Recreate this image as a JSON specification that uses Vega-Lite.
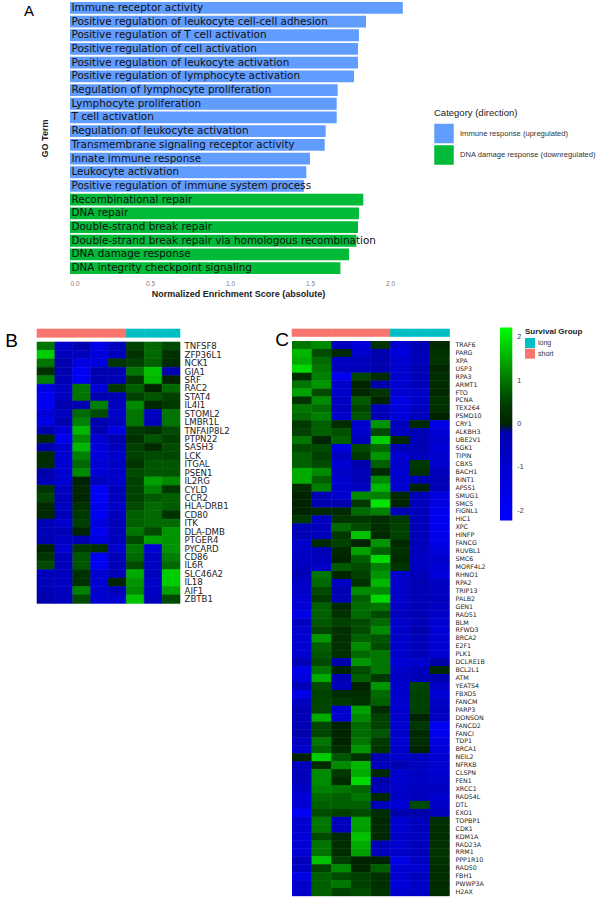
{
  "$schema": "https://vega.github.io/schema/vega-lite/v6.json",
  "padding": {"left": 5, "top": 1, "right": 5, "bottom": 2},
  "config": {"view": {"stroke": null}, "font": "Liberation Sans", "axis": {"grid": false}},
  "datasets": {
    "go": [
      {"term": "Immune receptor activity", "nes": 2.08, "cat": "Immune response (upregulated)"},
      {"term": "Positive regulation of leukocyte cell-cell adhesion", "nes": 1.85, "cat": "Immune response (upregulated)"},
      {"term": "Positive regulation of T cell activation", "nes": 1.806, "cat": "Immune response (upregulated)"},
      {"term": "Positive regulation of cell activation", "nes": 1.80, "cat": "Immune response (upregulated)"},
      {"term": "Positive regulation of leukocyte activation", "nes": 1.80, "cat": "Immune response (upregulated)"},
      {"term": "Positive regulation of lymphocyte activation", "nes": 1.775, "cat": "Immune response (upregulated)"},
      {"term": "Regulation of lymphocyte proliferation", "nes": 1.673, "cat": "Immune response (upregulated)"},
      {"term": "Lymphocyte proliferation", "nes": 1.667, "cat": "Immune response (upregulated)"},
      {"term": "T cell activation", "nes": 1.667, "cat": "Immune response (upregulated)"},
      {"term": "Regulation of leukocyte activation", "nes": 1.598, "cat": "Immune response (upregulated)"},
      {"term": "Transmembrane signaling receptor activity", "nes": 1.592, "cat": "Immune response (upregulated)"},
      {"term": "Innate immune response", "nes": 1.50, "cat": "Immune response (upregulated)"},
      {"term": "Leukocyte activation", "nes": 1.477, "cat": "Immune response (upregulated)"},
      {"term": "Positive regulation of immune system process", "nes": 1.462, "cat": "Immune response (upregulated)"},
      {"term": "Recombinational repair", "nes": 1.833, "cat": "DNA damage response (downregulated)"},
      {"term": "DNA repair", "nes": 1.806, "cat": "DNA damage response (downregulated)"},
      {"term": "Double-strand break repair", "nes": 1.80, "cat": "DNA damage response (downregulated)"},
      {"term": "Double-strand break repair via homologous recombination", "nes": 1.79, "cat": "DNA damage response (downregulated)"},
      {"term": "DNA damage response", "nes": 1.744, "cat": "DNA damage response (downregulated)"},
      {"term": "DNA integrity checkpoint signaling", "nes": 1.69, "cat": "DNA damage response (downregulated)"}
    ],
    "ann": [
      {"c": 1, "grp": "short"}, {"c": 2, "grp": "short"}, {"c": 3, "grp": "short"}, {"c": 4, "grp": "short"},
      {"c": 5, "grp": "short"}, {"c": 6, "grp": "long"}, {"c": 7, "grp": "long"}, {"c": 8, "grp": "long"}
    ],
    "hb": [
      {"g":"TNFSF8","c":1,"v":1.0},{"g":"TNFSF8","c":2,"v":-0.8},{"g":"TNFSF8","c":3,"v":-0.2},{"g":"TNFSF8","c":4,"v":-1.6},{"g":"TNFSF8","c":5,"v":-0.6},{"g":"TNFSF8","c":6,"v":0.5},{"g":"TNFSF8","c":7,"v":0.9},{"g":"TNFSF8","c":8,"v":0.6},
      {"g":"ZFP36L1","c":1,"v":1.8},{"g":"ZFP36L1","c":2,"v":-0.5},{"g":"ZFP36L1","c":3,"v":-0.6},{"g":"ZFP36L1","c":4,"v":-1.3},{"g":"ZFP36L1","c":5,"v":-0.5},{"g":"ZFP36L1","c":6,"v":0.3},{"g":"ZFP36L1","c":7,"v":0.9},{"g":"ZFP36L1","c":8,"v":0.25},
      {"g":"NCK1","c":1,"v":1.0},{"g":"NCK1","c":2,"v":-0.2},{"g":"NCK1","c":3,"v":-1.5},{"g":"NCK1","c":4,"v":-1.4},{"g":"NCK1","c":5,"v":0.35},{"g":"NCK1","c":6,"v":0.5},{"g":"NCK1","c":7,"v":0.8},{"g":"NCK1","c":8,"v":0.2},
      {"g":"GJA1","c":1,"v":0.3},{"g":"GJA1","c":2,"v":-0.2},{"g":"GJA1","c":3,"v":-2.0},{"g":"GJA1","c":4,"v":-0.1},{"g":"GJA1","c":5,"v":-0.25},{"g":"GJA1","c":6,"v":1.0},{"g":"GJA1","c":7,"v":1.7},{"g":"GJA1","c":8,"v":-0.15},
      {"g":"SRF","c":1,"v":1.1},{"g":"SRF","c":2,"v":-0.4},{"g":"SRF","c":3,"v":-1.9},{"g":"SRF","c":4,"v":-0.3},{"g":"SRF","c":5,"v":-0.4},{"g":"SRF","c":6,"v":0.4},{"g":"SRF","c":7,"v":1.6},{"g":"SRF","c":8,"v":0.0},
      {"g":"RAC2","c":1,"v":-1.5},{"g":"RAC2","c":2,"v":-0.6},{"g":"RAC2","c":3,"v":1.0},{"g":"RAC2","c":4,"v":-1.2},{"g":"RAC2","c":5,"v":0.4},{"g":"RAC2","c":6,"v":0.8},{"g":"RAC2","c":7,"v":0.0},{"g":"RAC2","c":8,"v":0.9},
      {"g":"STAT4","c":1,"v":-1.9},{"g":"STAT4","c":2,"v":-0.6},{"g":"STAT4","c":3,"v":1.0},{"g":"STAT4","c":4,"v":-0.25},{"g":"STAT4","c":5,"v":-0.35},{"g":"STAT4","c":6,"v":0.5},{"g":"STAT4","c":7,"v":0.7},{"g":"STAT4","c":8,"v":0.5},
      {"g":"IL4I1","c":1,"v":-1.9},{"g":"IL4I1","c":2,"v":-0.15},{"g":"IL4I1","c":3,"v":-0.2},{"g":"IL4I1","c":4,"v":1.1},{"g":"IL4I1","c":5,"v":-0.6},{"g":"IL4I1","c":6,"v":1.2},{"g":"IL4I1","c":7,"v":0.05},{"g":"IL4I1","c":8,"v":0.4},
      {"g":"STOML2","c":1,"v":-1.2},{"g":"STOML2","c":2,"v":-0.6},{"g":"STOML2","c":3,"v":0.9},{"g":"STOML2","c":4,"v":0.6},{"g":"STOML2","c":5,"v":-0.9},{"g":"STOML2","c":6,"v":1.0},{"g":"STOML2","c":7,"v":-0.7},{"g":"STOML2","c":8,"v":1.0},
      {"g":"LMBR1L","c":1,"v":-1.6},{"g":"LMBR1L","c":2,"v":-0.2},{"g":"LMBR1L","c":3,"v":1.1},{"g":"LMBR1L","c":4,"v":-0.15},{"g":"LMBR1L","c":5,"v":-0.6},{"g":"LMBR1L","c":6,"v":1.0},{"g":"LMBR1L","c":7,"v":-0.4},{"g":"LMBR1L","c":8,"v":1.0},
      {"g":"TNFAIP8L2","c":1,"v":-0.15},{"g":"TNFAIP8L2","c":2,"v":-1.2},{"g":"TNFAIP8L2","c":3,"v":1.6},{"g":"TNFAIP8L2","c":4,"v":-0.2},{"g":"TNFAIP8L2","c":5,"v":-1.5},{"g":"TNFAIP8L2","c":6,"v":0.4},{"g":"TNFAIP8L2","c":7,"v":0.25},{"g":"TNFAIP8L2","c":8,"v":0.6},
      {"g":"PTPN22","c":1,"v":0.15},{"g":"PTPN22","c":2,"v":-1.9},{"g":"PTPN22","c":3,"v":1.2},{"g":"PTPN22","c":4,"v":-1.0},{"g":"PTPN22","c":5,"v":-0.25},{"g":"PTPN22","c":6,"v":0.25},{"g":"PTPN22","c":7,"v":0.7},{"g":"PTPN22","c":8,"v":0.45},
      {"g":"SASH3","c":1,"v":-0.05},{"g":"SASH3","c":2,"v":-1.0},{"g":"SASH3","c":3,"v":1.6},{"g":"SASH3","c":4,"v":-1.3},{"g":"SASH3","c":5,"v":-0.5},{"g":"SASH3","c":6,"v":0.5},{"g":"SASH3","c":7,"v":0.1},{"g":"SASH3","c":8,"v":0.6},
      {"g":"LCK","c":1,"v":0.2},{"g":"LCK","c":2,"v":-1.0},{"g":"LCK","c":3,"v":1.1},{"g":"LCK","c":4,"v":-1.3},{"g":"LCK","c":5,"v":-0.9},{"g":"LCK","c":6,"v":0.5},{"g":"LCK","c":7,"v":0.6},{"g":"LCK","c":8,"v":0.55},
      {"g":"ITGAL","c":1,"v":0.2},{"g":"ITGAL","c":2,"v":-1.1},{"g":"ITGAL","c":3,"v":0.9},{"g":"ITGAL","c":4,"v":-1.2},{"g":"ITGAL","c":5,"v":-0.7},{"g":"ITGAL","c":6,"v":0.35},{"g":"ITGAL","c":7,"v":0.7},{"g":"ITGAL","c":8,"v":0.7},
      {"g":"PSEN1","c":1,"v":-0.05},{"g":"PSEN1","c":2,"v":-1.1},{"g":"PSEN1","c":3,"v":1.2},{"g":"PSEN1","c":4,"v":-1.2},{"g":"PSEN1","c":5,"v":-0.8},{"g":"PSEN1","c":6,"v":0.6},{"g":"PSEN1","c":7,"v":0.7},{"g":"PSEN1","c":8,"v":0.7},
      {"g":"IL2RG","c":1,"v":-0.35},{"g":"IL2RG","c":2,"v":-1.1},{"g":"IL2RG","c":3,"v":0.0},{"g":"IL2RG","c":4,"v":-0.6},{"g":"IL2RG","c":5,"v":-0.9},{"g":"IL2RG","c":6,"v":0.5},{"g":"IL2RG","c":7,"v":1.4},{"g":"IL2RG","c":8,"v":1.2},
      {"g":"CYLD","c":1,"v":0.35},{"g":"CYLD","c":2,"v":-0.6},{"g":"CYLD","c":3,"v":0.1},{"g":"CYLD","c":4,"v":-2.0},{"g":"CYLD","c":5,"v":-0.5},{"g":"CYLD","c":6,"v":0.5},{"g":"CYLD","c":7,"v":1.1},{"g":"CYLD","c":8,"v":0.4},
      {"g":"CCR2","c":1,"v":0.55},{"g":"CCR2","c":2,"v":-0.5},{"g":"CCR2","c":3,"v":0.05},{"g":"CCR2","c":4,"v":-2.0},{"g":"CCR2","c":5,"v":-0.5},{"g":"CCR2","c":6,"v":0.5},{"g":"CCR2","c":7,"v":0.75},{"g":"CCR2","c":8,"v":0.8},
      {"g":"HLA-DRB1","c":1,"v":0.15},{"g":"HLA-DRB1","c":2,"v":-0.6},{"g":"HLA-DRB1","c":3,"v":0.3},{"g":"HLA-DRB1","c":4,"v":-1.8},{"g":"HLA-DRB1","c":5,"v":-0.8},{"g":"HLA-DRB1","c":6,"v":0.6},{"g":"HLA-DRB1","c":7,"v":0.9},{"g":"HLA-DRB1","c":8,"v":0.75},
      {"g":"CD80","c":1,"v":0.1},{"g":"CD80","c":2,"v":-0.3},{"g":"CD80","c":3,"v":0.4},{"g":"CD80","c":4,"v":-1.9},{"g":"CD80","c":5,"v":-0.5},{"g":"CD80","c":6,"v":0.8},{"g":"CD80","c":7,"v":0.9},{"g":"CD80","c":8,"v":0.3},
      {"g":"ITK","c":1,"v":-0.3},{"g":"ITK","c":2,"v":-1.0},{"g":"ITK","c":3,"v":0.45},{"g":"ITK","c":4,"v":-1.4},{"g":"ITK","c":5,"v":-0.4},{"g":"ITK","c":6,"v":0.8},{"g":"ITK","c":7,"v":0.9},{"g":"ITK","c":8,"v":0.9},
      {"g":"DLA-DMB","c":1,"v":-0.4},{"g":"DLA-DMB","c":2,"v":-0.4},{"g":"DLA-DMB","c":3,"v":0.0},{"g":"DLA-DMB","c":4,"v":-1.8},{"g":"DLA-DMB","c":5,"v":-0.5},{"g":"DLA-DMB","c":6,"v":1.0},{"g":"DLA-DMB","c":7,"v":0.6},{"g":"DLA-DMB","c":8,"v":1.3},
      {"g":"PTGER4","c":1,"v":-0.3},{"g":"PTGER4","c":2,"v":-0.7},{"g":"PTGER4","c":3,"v":-0.1},{"g":"PTGER4","c":4,"v":-1.4},{"g":"PTGER4","c":5,"v":-0.5},{"g":"PTGER4","c":6,"v":0.6},{"g":"PTGER4","c":7,"v":1.4},{"g":"PTGER4","c":8,"v":1.3},
      {"g":"PYCARD","c":1,"v":0.0},{"g":"PYCARD","c":2,"v":-1.0},{"g":"PYCARD","c":3,"v":0.4},{"g":"PYCARD","c":4,"v":0.3},{"g":"PYCARD","c":5,"v":-1.0},{"g":"PYCARD","c":6,"v":1.0},{"g":"PYCARD","c":7,"v":-1.2},{"g":"PYCARD","c":8,"v":1.3},
      {"g":"CD86","c":1,"v":0.35},{"g":"CD86","c":2,"v":-0.5},{"g":"CD86","c":3,"v":0.7},{"g":"CD86","c":4,"v":-1.9},{"g":"CD86","c":5,"v":-0.4},{"g":"CD86","c":6,"v":0.9},{"g":"CD86","c":7,"v":-0.6},{"g":"CD86","c":8,"v":1.1},
      {"g":"IL6R","c":1,"v":0.6},{"g":"IL6R","c":2,"v":-0.5},{"g":"IL6R","c":3,"v":0.7},{"g":"IL6R","c":4,"v":-1.9},{"g":"IL6R","c":5,"v":-0.4},{"g":"IL6R","c":6,"v":0.6},{"g":"IL6R","c":7,"v":-0.6},{"g":"IL6R","c":8,"v":0.9},
      {"g":"SLC46A2","c":1,"v":-0.5},{"g":"SLC46A2","c":2,"v":-0.5},{"g":"SLC46A2","c":3,"v":0.3},{"g":"SLC46A2","c":4,"v":-1.0},{"g":"SLC46A2","c":5,"v":-0.4},{"g":"SLC46A2","c":6,"v":1.5},{"g":"SLC46A2","c":7,"v":-0.6},{"g":"SLC46A2","c":8,"v":1.8},
      {"g":"IL18","c":1,"v":-0.5},{"g":"IL18","c":2,"v":-0.7},{"g":"IL18","c":3,"v":0.3},{"g":"IL18","c":4,"v":-1.1},{"g":"IL18","c":5,"v":0.0},{"g":"IL18","c":6,"v":1.3},{"g":"IL18","c":7,"v":-0.8},{"g":"IL18","c":8,"v":1.8},
      {"g":"AIF1","c":1,"v":-0.3},{"g":"AIF1","c":2,"v":-0.6},{"g":"AIF1","c":3,"v":1.1},{"g":"AIF1","c":4,"v":-1.0},{"g":"AIF1","c":5,"v":-0.4},{"g":"AIF1","c":6,"v":1.2},{"g":"AIF1","c":7,"v":-0.8},{"g":"AIF1","c":8,"v":1.4},
      {"g":"ZBTB1","c":1,"v":-0.1},{"g":"ZBTB1","c":2,"v":-0.5},{"g":"ZBTB1","c":3,"v":0.6},{"g":"ZBTB1","c":4,"v":-1.0},{"g":"ZBTB1","c":5,"v":-1.0},{"g":"ZBTB1","c":6,"v":1.7},{"g":"ZBTB1","c":7,"v":-0.6},{"g":"ZBTB1","c":8,"v":0.6}
    ],
    "hc": [
      {"g":"TRAF6","c":1,"v":1.0},{"g":"TRAF6","c":2,"v":1.2},{"g":"TRAF6","c":3,"v":-0.5},{"g":"TRAF6","c":4,"v":-1.2},{"g":"TRAF6","c":5,"v":0.35},{"g":"TRAF6","c":6,"v":-1.1},{"g":"TRAF6","c":7,"v":-0.3},{"g":"TRAF6","c":8,"v":0.15},
      {"g":"PARG","c":1,"v":1.6},{"g":"PARG","c":2,"v":0.6},{"g":"PARG","c":3,"v":0.1},{"g":"PARG","c":4,"v":-1.0},{"g":"PARG","c":5,"v":-0.1},{"g":"PARG","c":6,"v":-1.4},{"g":"PARG","c":7,"v":-0.4},{"g":"PARG","c":8,"v":0.3},
      {"g":"XPA","c":1,"v":1.5},{"g":"XPA","c":2,"v":0.9},{"g":"XPA","c":3,"v":-0.6},{"g":"XPA","c":4,"v":-0.4},{"g":"XPA","c":5,"v":-0.1},{"g":"XPA","c":6,"v":-1.1},{"g":"XPA","c":7,"v":-0.5},{"g":"XPA","c":8,"v":0.35},
      {"g":"USP3","c":1,"v":1.9},{"g":"USP3","c":2,"v":1.0},{"g":"USP3","c":3,"v":-0.6},{"g":"USP3","c":4,"v":-0.5},{"g":"USP3","c":5,"v":-0.15},{"g":"USP3","c":6,"v":-1.0},{"g":"USP3","c":7,"v":-0.3},{"g":"USP3","c":8,"v":0.05},
      {"g":"RPA3","c":1,"v":0.2},{"g":"RPA3","c":2,"v":1.1},{"g":"RPA3","c":3,"v":-1.8},{"g":"RPA3","c":4,"v":0.55},{"g":"RPA3","c":5,"v":0.2},{"g":"RPA3","c":6,"v":-1.1},{"g":"RPA3","c":7,"v":-0.4},{"g":"RPA3","c":8,"v":0.2},
      {"g":"ARMT1","c":1,"v":1.0},{"g":"ARMT1","c":2,"v":1.3},{"g":"ARMT1","c":3,"v":-0.9},{"g":"ARMT1","c":4,"v":0.0},{"g":"ARMT1","c":5,"v":-0.05},{"g":"ARMT1","c":6,"v":-1.0},{"g":"ARMT1","c":7,"v":-0.5},{"g":"ARMT1","c":8,"v":0.2},
      {"g":"FTO","c":1,"v":1.4},{"g":"FTO","c":2,"v":0.6},{"g":"FTO","c":3,"v":-0.9},{"g":"FTO","c":4,"v":0.05},{"g":"FTO","c":5,"v":0.35},{"g":"FTO","c":6,"v":-1.1},{"g":"FTO","c":7,"v":-0.8},{"g":"FTO","c":8,"v":0.1},
      {"g":"PCNA","c":1,"v":0.3},{"g":"PCNA","c":2,"v":1.2},{"g":"PCNA","c":3,"v":-0.7},{"g":"PCNA","c":4,"v":0.75},{"g":"PCNA","c":5,"v":0.0},{"g":"PCNA","c":6,"v":-1.5},{"g":"PCNA","c":7,"v":-0.8},{"g":"PCNA","c":8,"v":0.3},
      {"g":"TEX264","c":1,"v":1.0},{"g":"TEX264","c":2,"v":0.9},{"g":"TEX264","c":3,"v":-0.5},{"g":"TEX264","c":4,"v":0.55},{"g":"TEX264","c":5,"v":-0.5},{"g":"TEX264","c":6,"v":-1.3},{"g":"TEX264","c":7,"v":-0.7},{"g":"TEX264","c":8,"v":0.3},
      {"g":"PSMD10","c":1,"v":0.9},{"g":"PSMD10","c":2,"v":1.1},{"g":"PSMD10","c":3,"v":-0.9},{"g":"PSMD10","c":4,"v":0.7},{"g":"PSMD10","c":5,"v":-0.3},{"g":"PSMD10","c":6,"v":-1.3},{"g":"PSMD10","c":7,"v":-0.5},{"g":"PSMD10","c":8,"v":0.0},
      {"g":"CRY1","c":1,"v":0.4},{"g":"CRY1","c":2,"v":0.8},{"g":"CRY1","c":3,"v":0.2},{"g":"CRY1","c":4,"v":-1.0},{"g":"CRY1","c":5,"v":1.3},{"g":"CRY1","c":6,"v":-0.5},{"g":"CRY1","c":7,"v":0.1},{"g":"CRY1","c":8,"v":-1.6},
      {"g":"ALKBH3","c":1,"v":0.5},{"g":"ALKBH3","c":2,"v":0.8},{"g":"ALKBH3","c":3,"v":0.65},{"g":"ALKBH3","c":4,"v":-0.9},{"g":"ALKBH3","c":5,"v":0.6},{"g":"ALKBH3","c":6,"v":-0.5},{"g":"ALKBH3","c":7,"v":-0.3},{"g":"ALKBH3","c":8,"v":-1.2},
      {"g":"UBE2V1","c":1,"v":1.0},{"g":"UBE2V1","c":2,"v":0.0},{"g":"UBE2V1","c":3,"v":0.8},{"g":"UBE2V1","c":4,"v":-0.5},{"g":"UBE2V1","c":5,"v":1.8},{"g":"UBE2V1","c":6,"v":0.15},{"g":"UBE2V1","c":7,"v":-0.3},{"g":"UBE2V1","c":8,"v":-0.9},
      {"g":"SGK1","c":1,"v":0.6},{"g":"SGK1","c":2,"v":0.6},{"g":"SGK1","c":3,"v":-1.4},{"g":"SGK1","c":4,"v":0.6},{"g":"SGK1","c":5,"v":0.9},{"g":"SGK1","c":6,"v":-0.35},{"g":"SGK1","c":7,"v":-0.3},{"g":"SGK1","c":8,"v":-1.2},
      {"g":"TIPIN","c":1,"v":0.8},{"g":"TIPIN","c":2,"v":0.5},{"g":"TIPIN","c":3,"v":-0.6},{"g":"TIPIN","c":4,"v":0.4},{"g":"TIPIN","c":5,"v":1.3},{"g":"TIPIN","c":6,"v":-1.0},{"g":"TIPIN","c":7,"v":-0.6},{"g":"TIPIN","c":8,"v":-1.0},
      {"g":"CBX5","c":1,"v":0.8},{"g":"CBX5","c":2,"v":0.6},{"g":"CBX5","c":3,"v":-1.1},{"g":"CBX5","c":4,"v":-0.05},{"g":"CBX5","c":5,"v":0.8},{"g":"CBX5","c":6,"v":-0.9},{"g":"CBX5","c":7,"v":0.4},{"g":"CBX5","c":8,"v":-1.0},
      {"g":"BACH1","c":1,"v":1.5},{"g":"BACH1","c":2,"v":1.2},{"g":"BACH1","c":3,"v":-0.8},{"g":"BACH1","c":4,"v":-0.4},{"g":"BACH1","c":5,"v":0.1},{"g":"BACH1","c":6,"v":-1.0},{"g":"BACH1","c":7,"v":0.3},{"g":"BACH1","c":8,"v":-0.5},
      {"g":"RINT1","c":1,"v":1.5},{"g":"RINT1","c":2,"v":0.8},{"g":"RINT1","c":3,"v":-1.0},{"g":"RINT1","c":4,"v":-0.3},{"g":"RINT1","c":5,"v":1.2},{"g":"RINT1","c":6,"v":-1.0},{"g":"RINT1","c":7,"v":-0.3},{"g":"RINT1","c":8,"v":-0.3},
      {"g":"AP5S1","c":1,"v":0.2},{"g":"AP5S1","c":2,"v":1.1},{"g":"AP5S1","c":3,"v":-0.9},{"g":"AP5S1","c":4,"v":-0.7},{"g":"AP5S1","c":5,"v":1.6},{"g":"AP5S1","c":6,"v":-1.0},{"g":"AP5S1","c":7,"v":0.0},{"g":"AP5S1","c":8,"v":-0.4},
      {"g":"SMUG1","c":1,"v":0.0},{"g":"SMUG1","c":2,"v":-0.3},{"g":"SMUG1","c":3,"v":-1.0},{"g":"SMUG1","c":4,"v":1.2},{"g":"SMUG1","c":5,"v":1.1},{"g":"SMUG1","c":6,"v":0.15},{"g":"SMUG1","c":7,"v":-0.4},{"g":"SMUG1","c":8,"v":-1.4},
      {"g":"SMC5","c":1,"v":0.0},{"g":"SMC5","c":2,"v":-0.25},{"g":"SMC5","c":3,"v":-0.1},{"g":"SMC5","c":4,"v":0.4},{"g":"SMC5","c":5,"v":2.0},{"g":"SMC5","c":6,"v":0.0},{"g":"SMC5","c":7,"v":-0.5},{"g":"SMC5","c":8,"v":-1.5},
      {"g":"FIGNL1","c":1,"v":0.0},{"g":"FIGNL1","c":2,"v":0.1},{"g":"FIGNL1","c":3,"v":0.15},{"g":"FIGNL1","c":4,"v":0.9},{"g":"FIGNL1","c":5,"v":1.1},{"g":"FIGNL1","c":6,"v":-0.3},{"g":"FIGNL1","c":7,"v":-0.5},{"g":"FIGNL1","c":8,"v":-1.8},
      {"g":"HIC1","c":1,"v":0.4},{"g":"HIC1","c":2,"v":-0.6},{"g":"HIC1","c":3,"v":0.35},{"g":"HIC1","c":4,"v":0.4},{"g":"HIC1","c":5,"v":0.2},{"g":"HIC1","c":6,"v":0.4},{"g":"HIC1","c":7,"v":-0.5},{"g":"HIC1","c":8,"v":-1.8},
      {"g":"XPC","c":1,"v":-0.3},{"g":"XPC","c":2,"v":-0.5},{"g":"XPC","c":3,"v":0.9},{"g":"XPC","c":4,"v":0.6},{"g":"XPC","c":5,"v":0.2},{"g":"XPC","c":6,"v":0.5},{"g":"XPC","c":7,"v":-0.5},{"g":"XPC","c":8,"v":-1.8},
      {"g":"HINFP","c":1,"v":-0.3},{"g":"HINFP","c":2,"v":-0.4},{"g":"HINFP","c":3,"v":0.4},{"g":"HINFP","c":4,"v":1.7},{"g":"HINFP","c":5,"v":0.1},{"g":"HINFP","c":6,"v":0.5},{"g":"HINFP","c":7,"v":-0.5},{"g":"HINFP","c":8,"v":-1.7},
      {"g":"FANCG","c":1,"v":-0.9},{"g":"FANCG","c":2,"v":0.1},{"g":"FANCG","c":3,"v":0.5},{"g":"FANCG","c":4,"v":0.05},{"g":"FANCG","c":5,"v":1.3},{"g":"FANCG","c":6,"v":0.15},{"g":"FANCG","c":7,"v":-0.4},{"g":"FANCG","c":8,"v":-1.6},
      {"g":"RUVBL1","c":1,"v":-0.8},{"g":"RUVBL1","c":2,"v":-0.3},{"g":"RUVBL1","c":3,"v":0.1},{"g":"RUVBL1","c":4,"v":1.4},{"g":"RUVBL1","c":5,"v":0.8},{"g":"RUVBL1","c":6,"v":0.3},{"g":"RUVBL1","c":7,"v":-0.5},{"g":"RUVBL1","c":8,"v":-1.3},
      {"g":"SMC6","c":1,"v":-0.7},{"g":"SMC6","c":2,"v":-0.5},{"g":"SMC6","c":3,"v":0.0},{"g":"SMC6","c":4,"v":0.8},{"g":"SMC6","c":5,"v":1.9},{"g":"SMC6","c":6,"v":0.15},{"g":"SMC6","c":7,"v":-0.7},{"g":"SMC6","c":8,"v":-0.9},
      {"g":"MORF4L2","c":1,"v":-0.5},{"g":"MORF4L2","c":2,"v":-0.8},{"g":"MORF4L2","c":3,"v":0.75},{"g":"MORF4L2","c":4,"v":0.6},{"g":"MORF4L2","c":5,"v":1.1},{"g":"MORF4L2","c":6,"v":0.35},{"g":"MORF4L2","c":7,"v":-0.7},{"g":"MORF4L2","c":8,"v":-1.1},
      {"g":"RHNO1","c":1,"v":-0.3},{"g":"RHNO1","c":2,"v":1.0},{"g":"RHNO1","c":3,"v":0.0},{"g":"RHNO1","c":4,"v":0.5},{"g":"RHNO1","c":5,"v":1.3},{"g":"RHNO1","c":6,"v":-0.9},{"g":"RHNO1","c":7,"v":-0.4},{"g":"RHNO1","c":8,"v":-1.3},
      {"g":"RPA2","c":1,"v":-0.8},{"g":"RPA2","c":2,"v":0.9},{"g":"RPA2","c":3,"v":-0.7},{"g":"RPA2","c":4,"v":0.3},{"g":"RPA2","c":5,"v":1.6},{"g":"RPA2","c":6,"v":-0.8},{"g":"RPA2","c":7,"v":-0.3},{"g":"RPA2","c":8,"v":-0.6},
      {"g":"TRIP13","c":1,"v":-0.9},{"g":"TRIP13","c":2,"v":0.6},{"g":"TRIP13","c":3,"v":-0.25},{"g":"TRIP13","c":4,"v":1.2},{"g":"TRIP13","c":5,"v":1.2},{"g":"TRIP13","c":6,"v":-0.8},{"g":"TRIP13","c":7,"v":-0.3},{"g":"TRIP13","c":8,"v":-0.7},
      {"g":"PALB2","c":1,"v":-1.1},{"g":"PALB2","c":2,"v":0.4},{"g":"PALB2","c":3,"v":-0.3},{"g":"PALB2","c":4,"v":0.8},{"g":"PALB2","c":5,"v":1.9},{"g":"PALB2","c":6,"v":-0.8},{"g":"PALB2","c":7,"v":-0.35},{"g":"PALB2","c":8,"v":-0.5},
      {"g":"GEN1","c":1,"v":-1.2},{"g":"GEN1","c":2,"v":0.8},{"g":"GEN1","c":3,"v":0.1},{"g":"GEN1","c":4,"v":0.9},{"g":"GEN1","c":5,"v":1.0},{"g":"GEN1","c":6,"v":-0.8},{"g":"GEN1","c":7,"v":-0.35},{"g":"GEN1","c":8,"v":-0.7},
      {"g":"RAD51","c":1,"v":-1.5},{"g":"RAD51","c":2,"v":0.8},{"g":"RAD51","c":3,"v":0.3},{"g":"RAD51","c":4,"v":0.9},{"g":"RAD51","c":5,"v":0.6},{"g":"RAD51","c":6,"v":-0.45},{"g":"RAD51","c":7,"v":-0.3},{"g":"RAD51","c":8,"v":-0.8},
      {"g":"BLM","c":1,"v":-0.7},{"g":"BLM","c":2,"v":0.7},{"g":"BLM","c":3,"v":0.5},{"g":"BLM","c":4,"v":0.6},{"g":"BLM","c":5,"v":0.9},{"g":"BLM","c":6,"v":-0.9},{"g":"BLM","c":7,"v":-0.4},{"g":"BLM","c":8,"v":-1.1},
      {"g":"RFWD3","c":1,"v":-1.0},{"g":"RFWD3","c":2,"v":0.55},{"g":"RFWD3","c":3,"v":0.25},{"g":"RFWD3","c":4,"v":0.6},{"g":"RFWD3","c":5,"v":1.2},{"g":"RFWD3","c":6,"v":-0.9},{"g":"RFWD3","c":7,"v":-0.1},{"g":"RFWD3","c":8,"v":-1.2},
      {"g":"BRCA2","c":1,"v":-1.0},{"g":"BRCA2","c":2,"v":1.3},{"g":"BRCA2","c":3,"v":0.25},{"g":"BRCA2","c":4,"v":0.8},{"g":"BRCA2","c":5,"v":0.7},{"g":"BRCA2","c":6,"v":-0.9},{"g":"BRCA2","c":7,"v":-0.4},{"g":"BRCA2","c":8,"v":-1.1},
      {"g":"E2F1","c":1,"v":-1.0},{"g":"E2F1","c":2,"v":0.8},{"g":"E2F1","c":3,"v":0.25},{"g":"E2F1","c":4,"v":1.2},{"g":"E2F1","c":5,"v":0.6},{"g":"E2F1","c":6,"v":-0.9},{"g":"E2F1","c":7,"v":-0.4},{"g":"E2F1","c":8,"v":-1.1},
      {"g":"PLK1","c":1,"v":-1.0},{"g":"PLK1","c":2,"v":0.7},{"g":"PLK1","c":3,"v":0.25},{"g":"PLK1","c":4,"v":0.9},{"g":"PLK1","c":5,"v":1.0},{"g":"PLK1","c":6,"v":-0.9},{"g":"PLK1","c":7,"v":-0.4},{"g":"PLK1","c":8,"v":-1.1},
      {"g":"DCLRE1B","c":1,"v":-0.4},{"g":"DCLRE1B","c":2,"v":0.6},{"g":"DCLRE1B","c":3,"v":-0.05},{"g":"DCLRE1B","c":4,"v":1.3},{"g":"DCLRE1B","c":5,"v":1.0},{"g":"DCLRE1B","c":6,"v":-1.2},{"g":"DCLRE1B","c":7,"v":-1.0},{"g":"DCLRE1B","c":8,"v":-0.05},
      {"g":"BCL2L1","c":1,"v":-1.6},{"g":"BCL2L1","c":2,"v":1.0},{"g":"BCL2L1","c":3,"v":0.0},{"g":"BCL2L1","c":4,"v":0.6},{"g":"BCL2L1","c":5,"v":1.0},{"g":"BCL2L1","c":6,"v":-0.8},{"g":"BCL2L1","c":7,"v":-0.5},{"g":"BCL2L1","c":8,"v":0.1},
      {"g":"ATM","c":1,"v":-1.3},{"g":"ATM","c":2,"v":1.5},{"g":"ATM","c":3,"v":-0.2},{"g":"ATM","c":4,"v":0.8},{"g":"ATM","c":5,"v":0.4},{"g":"ATM","c":6,"v":-0.8},{"g":"ATM","c":7,"v":-0.35},{"g":"ATM","c":8,"v":-0.1},
      {"g":"YEATS4","c":1,"v":-0.4},{"g":"YEATS4","c":2,"v":0.6},{"g":"YEATS4","c":3,"v":-0.5},{"g":"YEATS4","c":4,"v":0.0},{"g":"YEATS4","c":5,"v":1.3},{"g":"YEATS4","c":6,"v":-0.9},{"g":"YEATS4","c":7,"v":0.55},{"g":"YEATS4","c":8,"v":-0.8},
      {"g":"FBXO5","c":1,"v":-1.6},{"g":"FBXO5","c":2,"v":0.5},{"g":"FBXO5","c":3,"v":0.2},{"g":"FBXO5","c":4,"v":0.2},{"g":"FBXO5","c":5,"v":0.9},{"g":"FBXO5","c":6,"v":-0.9},{"g":"FBXO5","c":7,"v":0.5},{"g":"FBXO5","c":8,"v":-1.2},
      {"g":"FANCM","c":1,"v":-0.7},{"g":"FANCM","c":2,"v":0.55},{"g":"FANCM","c":3,"v":0.4},{"g":"FANCM","c":4,"v":0.3},{"g":"FANCM","c":5,"v":0.8},{"g":"FANCM","c":6,"v":-1.0},{"g":"FANCM","c":7,"v":0.5},{"g":"FANCM","c":8,"v":-0.8},
      {"g":"PARP3","c":1,"v":-0.3},{"g":"PARP3","c":2,"v":0.55},{"g":"PARP3","c":3,"v":-1.0},{"g":"PARP3","c":4,"v":1.4},{"g":"PARP3","c":5,"v":0.15},{"g":"PARP3","c":6,"v":-1.1},{"g":"PARP3","c":7,"v":0.5},{"g":"PARP3","c":8,"v":-0.6},
      {"g":"DONSON","c":1,"v":-0.35},{"g":"DONSON","c":2,"v":1.5},{"g":"DONSON","c":3,"v":-1.0},{"g":"DONSON","c":4,"v":1.2},{"g":"DONSON","c":5,"v":0.5},{"g":"DONSON","c":6,"v":-0.9},{"g":"DONSON","c":7,"v":0.0},{"g":"DONSON","c":8,"v":-0.7},
      {"g":"FANCD2","c":1,"v":-0.3},{"g":"FANCD2","c":2,"v":0.55},{"g":"FANCD2","c":3,"v":0.0},{"g":"FANCD2","c":4,"v":0.9},{"g":"FANCD2","c":5,"v":0.5},{"g":"FANCD2","c":6,"v":-1.0},{"g":"FANCD2","c":7,"v":0.4},{"g":"FANCD2","c":8,"v":-1.8},
      {"g":"FANCI","c":1,"v":-0.1},{"g":"FANCI","c":2,"v":0.55},{"g":"FANCI","c":3,"v":0.0},{"g":"FANCI","c":4,"v":0.9},{"g":"FANCI","c":5,"v":0.7},{"g":"FANCI","c":6,"v":-0.9},{"g":"FANCI","c":7,"v":0.1},{"g":"FANCI","c":8,"v":-1.8},
      {"g":"TDP1","c":1,"v":-0.6},{"g":"TDP1","c":2,"v":1.0},{"g":"TDP1","c":3,"v":0.0},{"g":"TDP1","c":4,"v":1.0},{"g":"TDP1","c":5,"v":0.4},{"g":"TDP1","c":6,"v":-1.0},{"g":"TDP1","c":7,"v":0.2},{"g":"TDP1","c":8,"v":-1.4},
      {"g":"BRCA1","c":1,"v":-0.9},{"g":"BRCA1","c":2,"v":0.8},{"g":"BRCA1","c":3,"v":0.2},{"g":"BRCA1","c":4,"v":1.3},{"g":"BRCA1","c":5,"v":0.35},{"g":"BRCA1","c":6,"v":-0.9},{"g":"BRCA1","c":7,"v":0.0},{"g":"BRCA1","c":8,"v":-1.3},
      {"g":"NEIL2","c":1,"v":0.0},{"g":"NEIL2","c":2,"v":1.8},{"g":"NEIL2","c":3,"v":0.7},{"g":"NEIL2","c":4,"v":0.3},{"g":"NEIL2","c":5,"v":-0.3},{"g":"NEIL2","c":6,"v":-0.9},{"g":"NEIL2","c":7,"v":-0.6},{"g":"NEIL2","c":8,"v":-1.0},
      {"g":"NFRKB","c":1,"v":-0.5},{"g":"NFRKB","c":2,"v":0.2},{"g":"NFRKB","c":3,"v":1.2},{"g":"NFRKB","c":4,"v":1.6},{"g":"NFRKB","c":5,"v":-0.5},{"g":"NFRKB","c":6,"v":-0.2},{"g":"NFRKB","c":7,"v":-0.6},{"g":"NFRKB","c":8,"v":-1.0},
      {"g":"CLSPN","c":1,"v":-0.5},{"g":"CLSPN","c":2,"v":1.2},{"g":"CLSPN","c":3,"v":0.4},{"g":"CLSPN","c":4,"v":1.5},{"g":"CLSPN","c":5,"v":0.05},{"g":"CLSPN","c":6,"v":-0.9},{"g":"CLSPN","c":7,"v":-0.7},{"g":"CLSPN","c":8,"v":-1.1},
      {"g":"FEN1","c":1,"v":-0.5},{"g":"FEN1","c":2,"v":1.2},{"g":"FEN1","c":3,"v":0.15},{"g":"FEN1","c":4,"v":1.9},{"g":"FEN1","c":5,"v":-0.05},{"g":"FEN1","c":6,"v":-0.9},{"g":"FEN1","c":7,"v":-0.7},{"g":"FEN1","c":8,"v":-0.8},
      {"g":"XRCC1","c":1,"v":-0.8},{"g":"XRCC1","c":2,"v":1.1},{"g":"XRCC1","c":3,"v":1.0},{"g":"XRCC1","c":4,"v":0.85},{"g":"XRCC1","c":5,"v":-0.4},{"g":"XRCC1","c":6,"v":-0.9},{"g":"XRCC1","c":7,"v":-0.6},{"g":"XRCC1","c":8,"v":-0.6},
      {"g":"RAD54L","c":1,"v":-1.2},{"g":"RAD54L","c":2,"v":0.9},{"g":"RAD54L","c":3,"v":0.8},{"g":"RAD54L","c":4,"v":1.0},{"g":"RAD54L","c":5,"v":0.1},{"g":"RAD54L","c":6,"v":-0.8},{"g":"RAD54L","c":7,"v":-0.5},{"g":"RAD54L","c":8,"v":-1.0},
      {"g":"DTL","c":1,"v":-1.1},{"g":"DTL","c":2,"v":0.8},{"g":"DTL","c":3,"v":0.8},{"g":"DTL","c":4,"v":0.8},{"g":"DTL","c":5,"v":-0.5},{"g":"DTL","c":6,"v":-1.2},{"g":"DTL","c":7,"v":0.6},{"g":"DTL","c":8,"v":-0.8},
      {"g":"EXO1","c":1,"v":-2.0},{"g":"EXO1","c":2,"v":0.6},{"g":"EXO1","c":3,"v":0.5},{"g":"EXO1","c":4,"v":0.6},{"g":"EXO1","c":5,"v":0.2},{"g":"EXO1","c":6,"v":-0.1},{"g":"EXO1","c":7,"v":-0.1},{"g":"EXO1","c":8,"v":-0.4},
      {"g":"TOPBP1","c":1,"v":-1.0},{"g":"TOPBP1","c":2,"v":1.0},{"g":"TOPBP1","c":3,"v":-0.5},{"g":"TOPBP1","c":4,"v":1.4},{"g":"TOPBP1","c":5,"v":0.1},{"g":"TOPBP1","c":6,"v":-1.0},{"g":"TOPBP1","c":7,"v":-0.5},{"g":"TOPBP1","c":8,"v":0.25},
      {"g":"CDK1","c":1,"v":-1.0},{"g":"CDK1","c":2,"v":1.0},{"g":"CDK1","c":3,"v":-0.5},{"g":"CDK1","c":4,"v":1.4},{"g":"CDK1","c":5,"v":0.15},{"g":"CDK1","c":6,"v":-1.0},{"g":"CDK1","c":7,"v":-0.5},{"g":"CDK1","c":8,"v":0.25},
      {"g":"KDM1A","c":1,"v":-1.2},{"g":"KDM1A","c":2,"v":0.6},{"g":"KDM1A","c":3,"v":0.1},{"g":"KDM1A","c":4,"v":1.7},{"g":"KDM1A","c":5,"v":0.1},{"g":"KDM1A","c":6,"v":-0.8},{"g":"KDM1A","c":7,"v":-0.6},{"g":"KDM1A","c":8,"v":0.2},
      {"g":"RAD23A","c":1,"v":-1.1},{"g":"RAD23A","c":2,"v":1.0},{"g":"RAD23A","c":3,"v":0.2},{"g":"RAD23A","c":4,"v":1.5},{"g":"RAD23A","c":5,"v":-0.4},{"g":"RAD23A","c":6,"v":-1.0},{"g":"RAD23A","c":7,"v":-0.5},{"g":"RAD23A","c":8,"v":0.25},
      {"g":"RRM1","c":1,"v":-1.1},{"g":"RRM1","c":2,"v":1.0},{"g":"RRM1","c":3,"v":0.2},{"g":"RRM1","c":4,"v":1.4},{"g":"RRM1","c":5,"v":-0.5},{"g":"RRM1","c":6,"v":-0.9},{"g":"RRM1","c":7,"v":-0.5},{"g":"RRM1","c":8,"v":0.35},
      {"g":"PPP1R10","c":1,"v":-0.5},{"g":"PPP1R10","c":2,"v":1.7},{"g":"PPP1R10","c":3,"v":0.45},{"g":"PPP1R10","c":4,"v":0.0},{"g":"PPP1R10","c":5,"v":0.0},{"g":"PPP1R10","c":6,"v":-1.6},{"g":"PPP1R10","c":7,"v":-0.7},{"g":"PPP1R10","c":8,"v":0.3},
      {"g":"RAD50","c":1,"v":-0.7},{"g":"RAD50","c":2,"v":0.5},{"g":"RAD50","c":3,"v":1.2},{"g":"RAD50","c":4,"v":0.05},{"g":"RAD50","c":5,"v":0.8},{"g":"RAD50","c":6,"v":-1.1},{"g":"RAD50","c":7,"v":-1.0},{"g":"RAD50","c":8,"v":0.2},
      {"g":"FBH1","c":1,"v":-1.6},{"g":"FBH1","c":2,"v":0.8},{"g":"FBH1","c":3,"v":0.6},{"g":"FBH1","c":4,"v":0.5},{"g":"FBH1","c":5,"v":0.25},{"g":"FBH1","c":6,"v":-1.0},{"g":"FBH1","c":7,"v":-0.6},{"g":"FBH1","c":8,"v":0.2},
      {"g":"PWWP3A","c":1,"v":-0.9},{"g":"PWWP3A","c":2,"v":0.8},{"g":"PWWP3A","c":3,"v":1.0},{"g":"PWWP3A","c":4,"v":0.5},{"g":"PWWP3A","c":5,"v":0.25},{"g":"PWWP3A","c":6,"v":-1.3},{"g":"PWWP3A","c":7,"v":-0.8},{"g":"PWWP3A","c":8,"v":0.15},
      {"g":"H2AX","c":1,"v":-0.9},{"g":"H2AX","c":2,"v":0.8},{"g":"H2AX","c":3,"v":0.5},{"g":"H2AX","c":4,"v":0.6},{"g":"H2AX","c":5,"v":0.3},{"g":"H2AX","c":6,"v":-1.0},{"g":"H2AX","c":7,"v":-0.8},{"g":"H2AX","c":8,"v":0.2}
    ]
  },
  "bounds": "flush",
  "spacing": 54,
  "resolve": {"scale": {"color": "independent", "fill": "independent", "stroke": "independent"}, "legend": {"color": "independent", "fill": "independent", "stroke": "independent"}},
  "vconcat": [
    {
      "width": 369,
      "height": 274,
      "title": {"text": "A", "orient": "left", "anchor": "end", "frame": "group", "angle": 0, "align": "right", "baseline": "top", "fontSize": 15, "fontWeight": "normal", "font": "Liberation Sans", "color": "#000000", "offset": 5, "dx": 12, "dy": 3},
      "data": {"name": "go"},
      "encoding": {
        "y": {
          "field": "term", "type": "nominal", "sort": null,
          "scale": {"paddingInner": 0.14, "paddingOuter": 0.07},
          "axis": {"title": "GO Term", "labels": false, "ticks": false, "domain": false, "offset": -33, "titlePadding": 21, "titleFontSize": 9, "titleFontWeight": "bold", "titleColor": "#222222", "titleFont": "Liberation Sans"}
        }
      },
      "layer": [
        {
          "mark": {"type": "bar"},
          "encoding": {
            "x": {
              "field": "nes", "type": "quantitative",
              "scale": {"domain": [0, 2.1], "range": [33, 369], "nice": false, "zero": true},
              "axis": {"values": [0, 0.5, 1, 1.5, 2], "format": ".1f", "labelFontSize": 6.5, "labelColor": "#808080", "labelPadding": 5, "ticks": false, "domain": false, "grid": false, "title": "Normalized Enrichment Score (absolute)", "titleFontSize": 9, "titleFontWeight": "bold", "titleColor": "#222222", "titlePadding": 3}
            },
            "color": {
              "field": "cat", "type": "nominal",
              "scale": {"domain": ["Immune response (upregulated)", "DNA damage response (downregulated)"], "range": ["#619CFF", "#00BA38"]},
              "legend": {"orient": "none", "legendX": 397, "legendY": 107, "title": "Category (direction)", "titleFontSize": 9.5, "titleFontWeight": "normal", "titleColor": "#222222", "titlePadding": 6, "labelFontSize": 7.6, "labelColor": "#333333", "symbolType": "square", "symbolSize": 380, "symbolStrokeWidth": 0, "symbolOpacity": 1, "rowPadding": 1.5, "labelOffset": 6}
            }
          }
        },
        {
          "mark": {"type": "text", "align": "left", "baseline": "middle", "dx": 1.5, "font": "DejaVu Sans", "fontSize": 10.4, "color": "#111111"},
          "encoding": {
            "x": {"datum": 0, "type": "quantitative"},
            "text": {"field": "term"}
          }
        }
      ]
    },
    {
      "spacing": 45,
      "resolve": {"scale": {"color": "independent", "fill": "independent", "stroke": "independent"}, "legend": {"color": "independent", "fill": "independent", "stroke": "independent"}},
      "hconcat": [
        {
          "bounds": "flush",
          "spacing": 4,
          "resolve": {"scale": {"color": "independent", "fill": "independent", "stroke": "independent"}},
          "vconcat": [
            {
              "width": 143,
              "height": 8.3,
              "title": {"text": "B", "orient": "left", "anchor": "end", "frame": "group", "angle": 0, "align": "right", "baseline": "top", "fontSize": 19, "fontWeight": "normal", "font": "Liberation Sans", "color": "#000000", "offset": 20, "dx": 14, "dy": 3},
              "data": {"name": "ann"},
              "mark": {"type": "rect", "strokeWidth": 0.6},
              "encoding": {
                "x": {"field": "c", "type": "ordinal", "axis": null, "scale": {"paddingInner": 0, "paddingOuter": 0}},
                "fill": {"field": "grp", "type": "nominal", "scale": {"domain": ["long", "short"], "range": ["#00BFC4", "#F8766D"]}, "legend": null},
                "stroke": {"field": "grp", "type": "nominal", "scale": {"domain": ["long", "short"], "range": ["#00BFC4", "#F8766D"]}, "legend": null}
              }
            },
            {
              "width": 143,
              "height": 261.4,
              "data": {"name": "hb"},
              "mark": {"type": "rect", "strokeWidth": 0.6},
              "encoding": {
                "x": {"field": "c", "type": "ordinal", "axis": null, "scale": {"paddingInner": 0, "paddingOuter": 0}},
                "y": {"field": "g", "type": "nominal", "sort": null, "scale": {"paddingInner": 0, "paddingOuter": 0},
                      "axis": {"orient": "right", "title": null, "ticks": false, "domain": false, "labelFont": "DejaVu Sans", "labelFontSize": 8.6, "labelColor": "#222222", "labelPadding": 4, "labelOverlap": false, "labelBound": false}},
                "color": {"field": "v", "type": "quantitative", "scale": {"domain": [-2.23, 0, 2.23], "range": ["#0000ff", "#000000", "#00ff00"]}, "legend": null},
                "stroke": {"field": "v", "type": "quantitative", "scale": {"domain": [-2.23, 0, 2.23], "range": ["#0000ff", "#000000", "#00ff00"]}, "legend": null}
              }
            }
          ]
        },
        {
          "bounds": "flush",
          "spacing": 4,
          "resolve": {"scale": {"color": "independent", "fill": "independent", "stroke": "independent"}},
          "vconcat": [
            {
              "width": 157.5,
              "height": 7.5,
              "title": {"text": "C", "orient": "left", "anchor": "end", "frame": "group", "angle": 0, "align": "right", "baseline": "top", "fontSize": 19, "fontWeight": "normal", "font": "Liberation Sans", "color": "#000000", "offset": 3, "dx": 14, "dy": 2},
              "data": {"name": "ann"},
              "mark": {"type": "rect", "strokeWidth": 0.6},
              "encoding": {
                "x": {"field": "c", "type": "ordinal", "axis": null, "scale": {"paddingInner": 0, "paddingOuter": 0}},
                "fill": {"field": "grp", "type": "nominal", "scale": {"domain": ["long", "short"], "range": ["#00BFC4", "#F8766D"]},
                         "legend": {"orient": "none", "legendX": 233, "legendY": -1, "title": "Survival Group", "titleFontSize": 8, "titleFontWeight": "bold", "titleColor": "#222222", "titlePadding": 2, "labelFontSize": 7, "labelColor": "#333333", "symbolType": "square", "symbolSize": 100, "symbolStrokeWidth": 0, "symbolOpacity": 1, "rowPadding": 0.7, "labelOffset": 3}},
                "stroke": {"field": "grp", "type": "nominal", "scale": {"domain": ["long", "short"], "range": ["#00BFC4", "#F8766D"]}, "legend": null}
              }
            },
            {
              "width": 157.5,
              "height": 555.1,
              "data": {"name": "hc"},
              "encoding": {
                "x": {"field": "c", "type": "ordinal", "axis": null, "scale": {"paddingInner": 0, "paddingOuter": 0}},
                "y": {"field": "g", "type": "nominal", "sort": null, "scale": {"paddingInner": 0, "paddingOuter": 0},
                      "axis": {"orient": "right", "title": null, "ticks": false, "domain": false, "labelFont": "DejaVu Sans", "labelFontSize": 6.3, "labelColor": "#222222", "labelPadding": 5.5, "labelOverlap": false, "labelBound": false}},
                "color": {"field": "v", "type": "quantitative", "scale": {"domain": [-2.23, 0, 2.23], "range": ["#0000ff", "#000000", "#00ff00"]},
                          "legend": {"orient": "none", "legendX": 208, "legendY": -13.5, "title": null, "direction": "vertical", "gradientLength": 193, "gradientThickness": 12.3, "gradientStrokeWidth": 0, "values": [-2, -1, 0, 1, 2], "labelExpr": "datum.value + ''", "labelFontSize": 7, "labelColor": "#333333", "labelOffset": 5}}
              },
              "layer": [
                {"mark": {"type": "rect"}},
                {"mark": {"type": "rect"}}
              ]
            }
          ]
        }
      ]
    }
  ]
}
